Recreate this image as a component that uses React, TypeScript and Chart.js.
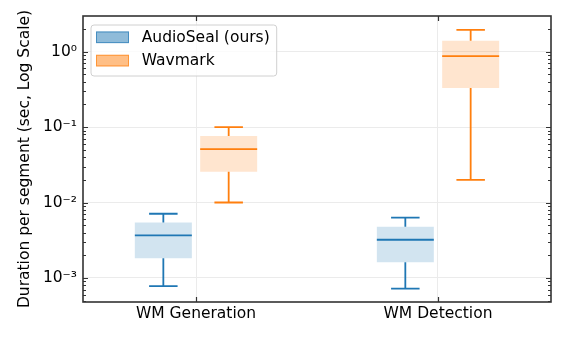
import React, { useEffect, useRef } from "react";
import { Chart, registerables } from "chart.js";

Chart.register(...registerables);

const categories = ["WM Generation", "WM Detection"];
const seriesNames = ["AudioSeal (ours)", "Wavmark"];

const audiosealMin = [0.00078, 0.00072];
const audiosealQ1 = [0.00182, 0.00162];
const audiosealMedian = [0.00366, 0.00321];
const audiosealQ3 = [0.00545, 0.00478];
const audiosealMax = [0.0071, 0.0063];

const wavmarkMin = [0.01, 0.02];
const wavmarkQ1 = [0.0256, 0.33];
const wavmarkMedian = [0.051, 0.87];
const wavmarkQ3 = [0.076, 1.4];
const wavmarkMax = [0.1, 1.94];

const yTickValues = [1e-3, 1e-2, 1e-1, 1];
const yTickLabels = ["10⁻³", "10⁻²", "10⁻¹", "10⁰"];

const FONT = "DejaVu Sans";
const FS = 15.5;
const OFFSET = 0.135;
const BOX_W = 0.2355;
const COLORS = [
  { line: "#1f77b4", fill: "rgba(31,119,180,0.2)", patch: "rgba(31,119,180,0.5)", patchEdge: "rgba(31,119,180,0.65)" },
  { line: "#ff7f0e", fill: "rgba(255,127,14,0.2)", patch: "rgba(255,127,14,0.5)", patchEdge: "rgba(255,127,14,0.65)" },
];

const stats = [
  { min: audiosealMin, q1: audiosealQ1, med: audiosealMedian, q3: audiosealQ3, max: audiosealMax },
  { min: wavmarkMin, q1: wavmarkQ1, med: wavmarkMedian, q3: wavmarkQ3, max: wavmarkMax },
];

const boxPlugin = {
  id: "boxWhiskers",
  afterDatasetsDraw(chart: any) {
    const ctx = chart.ctx;
    const y = chart.scales.y;
    chart.data.datasets.forEach((_ds: any, di: number) => {
      const meta = chart.getDatasetMeta(di);
      const s = stats[di];
      const col = COLORS[di].line;
      meta.data.forEach((bar: any, i: number) => {
        const { x, width } = bar.getProps(["x", "width"], true);
        const yMin = y.getPixelForValue(s.min[i]);
        const yQ1 = y.getPixelForValue(s.q1[i]);
        const yMed = y.getPixelForValue(s.med[i]);
        const yQ3 = y.getPixelForValue(s.q3[i]);
        const yMax = y.getPixelForValue(s.max[i]);
        ctx.save();
        ctx.strokeStyle = col;
        ctx.lineWidth = 1.8;
        ctx.beginPath();
        ctx.moveTo(x, yQ1);
        ctx.lineTo(x, yMin);
        ctx.moveTo(x, yQ3);
        ctx.lineTo(x, yMax);
        ctx.moveTo(x - width / 4, yMin);
        ctx.lineTo(x + width / 4, yMin);
        ctx.moveTo(x - width / 4, yMax);
        ctx.lineTo(x + width / 4, yMax);
        ctx.moveTo(x - width / 2, yMed);
        ctx.lineTo(x + width / 2, yMed);
        ctx.stroke();
        ctx.restore();
      });
    });
  },
  afterDraw(chart: any) {
    const ctx = chart.ctx;
    const { left, right, top, bottom } = chart.chartArea;
    const y = chart.scales.y;
    const xs = chart.scales.x;
    ctx.save();
    ctx.strokeStyle = "#333";
    ctx.lineWidth = 1.2;
    ctx.beginPath();
    const lo = Math.floor(Math.log10(y.min));
    const hi = Math.ceil(Math.log10(y.max));
    for (let n = lo; n <= hi; n++) {
      for (let k = 1; k <= 9; k++) {
        const v = k * Math.pow(10, n);
        if (v < y.min || v > y.max) continue;
        const py = Math.round(y.getPixelForValue(v)) + 0.5;
        const len = k === 1 ? 5 : 3;
        ctx.moveTo(left, py);
        ctx.lineTo(left + len, py);
        ctx.moveTo(right, py);
        ctx.lineTo(right - len, py);
      }
    }
    categories.forEach((_c, i) => {
      const px = Math.round(xs.getPixelForValue(i)) + 0.5;
      ctx.moveTo(px, bottom);
      ctx.lineTo(px, bottom - 5);
      ctx.moveTo(px, top);
      ctx.lineTo(px, top + 5);
    });
    ctx.stroke();
    ctx.lineWidth = 1.6;
    ctx.strokeRect(left, top, right - left, bottom - top);
    ctx.restore();

    // legend
    ctx.save();
    ctx.font = `${FS}px "${FONT}"`;
    const labels = chart.data.datasets.map((d: any) => d.label);
    const textW = Math.max(...labels.map((l: string) => ctx.measureText(l).width));
    const lx = left + 8;
    const ly = top + 9;
    const rowH = 23.3;
    const lw = 50.7 + textW + 7;
    const lh = 51;
    ctx.beginPath();
    const r = 3;
    ctx.moveTo(lx + r, ly);
    ctx.arcTo(lx + lw, ly, lx + lw, ly + lh, r);
    ctx.arcTo(lx + lw, ly + lh, lx, ly + lh, r);
    ctx.arcTo(lx, ly + lh, lx, ly, r);
    ctx.arcTo(lx, ly, lx + lw, ly, r);
    ctx.closePath();
    ctx.fillStyle = "rgba(255,255,255,0.8)";
    ctx.fill();
    ctx.strokeStyle = "#d0d0d0";
    ctx.lineWidth = 1;
    ctx.stroke();
    labels.forEach((l: string, i: number) => {
      const py = ly + 6.5 + i * rowH;
      ctx.fillStyle = COLORS[i].patch;
      ctx.fillRect(lx + 5, py, 33, 11.6);
      ctx.strokeStyle = COLORS[i].patchEdge;
      ctx.lineWidth = 1;
      ctx.strokeRect(lx + 5.5, py + 0.5, 32, 10.6);
      ctx.fillStyle = "#000";
      ctx.textBaseline = "middle";
      ctx.textAlign = "left";
      ctx.fillText(l, lx + 50.7, py + 6.3);
    });
    ctx.restore();
  },
};

export default function App() {
  const ref = useRef<HTMLCanvasElement | null>(null);
  useEffect(() => {
    if (!ref.current) return;
    Chart.defaults.font.family = FONT;
    const datasets = stats.map((s, di) => ({
      label: seriesNames[di],
      data: categories.map((_c, i) => ({ x: i + (di === 0 ? -OFFSET : OFFSET), y: [s.q1[i], s.q3[i]] })),
      backgroundColor: COLORS[di].fill,
      borderWidth: 0,
      grouped: false,
      categoryPercentage: 1,
      barPercentage: BOX_W / (2 * OFFSET),
    }));
    const chart = new Chart(ref.current, {
      type: "bar",
      data: { datasets: datasets as any },
      options: {
        animation: false,
        responsive: true,
        maintainAspectRatio: false,
        layout: { padding: { top: 16, right: 17, left: 0, bottom: 0 } },
        plugins: { legend: { display: false }, tooltip: { enabled: false } },
        scales: {
          x: {
            type: "linear",
            offset: false,
            min: -0.467,
            max: 1.467,
            afterBuildTicks: (s: any) => {
              s.ticks = categories.map((_c, i) => ({ value: i }));
            },
            afterFit: (s: any) => {
              s.height = 39;
            },
            ticks: {
              callback: (v: any) => categories[v] ?? "",
              font: { family: FONT, size: FS },
              color: "#000",
              padding: 3,
              autoSkip: false,
              maxRotation: 0,
            },
            grid: { color: "#ebebeb", lineWidth: 1, drawTicks: false, offset: false },
            border: { display: false },
          },
          y: {
            type: "logarithmic",
            min: 4.8e-4,
            max: 2.97,
            afterBuildTicks: (s: any) => {
              s.ticks = yTickValues.map((v) => ({ value: v }));
            },
            afterFit: (s: any) => {
              s.width = 83;
            },
            ticks: {
              callback: (v: any) => {
                const idx = yTickValues.findIndex((t) => Math.abs(t - v) / t < 1e-6);
                return idx >= 0 ? yTickLabels[idx] : "";
              },
              font: { family: FONT, size: FS },
              color: "#000",
              padding: 6,
            },
            grid: { color: "#ebebeb", lineWidth: 1, drawTicks: false },
            border: { display: false },
            title: {
              display: true,
              text: "Duration per segment (sec, Log Scale)",
              font: { family: FONT, size: FS },
              color: "#000",
              padding: { top: 16, bottom: 0 },
            },
          },
        },
      },
      plugins: [boxPlugin],
    } as any);
    return () => chart.destroy();
  }, []);
  return (
    <div style={{ position: "fixed", left: 0, top: 0, width: 568, height: 341, background: "#fff" }}>
      <canvas ref={ref} />
    </div>
  );
}
